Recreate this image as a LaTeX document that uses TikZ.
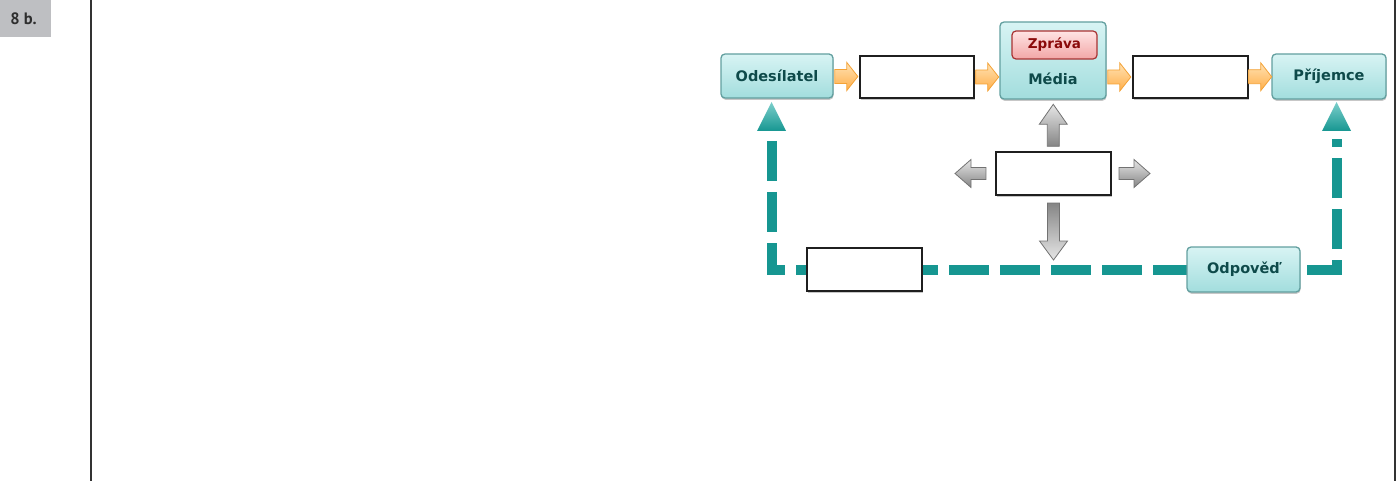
\documentclass[tikz,border=0pt]{standalone}
\usepackage{fontspec}
\setmainfont{DejaVu Sans}
\newfontfamily\tagfont{PT Sans}
\usetikzlibrary{calc,shadows}
\definecolor{tealfb}{HTML}{169691}
\definecolor{tealtop}{HTML}{7CCFCB}
\definecolor{boxtop}{HTML}{D8F4F4}
\definecolor{boxbot}{HTML}{A2DDDD}
\definecolor{boxline}{HTML}{629F9F}
\definecolor{boxtext}{HTML}{0E4A4A}
\definecolor{pinktop}{HTML}{FFE4E4}
\definecolor{pinkbot}{HTML}{F2A6A6}
\definecolor{pinkline}{HTML}{A83232}
\definecolor{pinktext}{HTML}{8A0A0A}
\definecolor{orangetop}{HTML}{FFE2B4}
\definecolor{orangebot}{HTML}{FFAE48}
\definecolor{orangeline}{HTML}{F4A236}
\definecolor{graylight}{HTML}{E6E6E6}
\definecolor{graydark}{HTML}{858585}
\definecolor{grayline}{HTML}{727272}
\definecolor{tagbg}{HTML}{BEBFC2}
\definecolor{tagtext}{HTML}{2E2E2E}
\definecolor{frameline}{HTML}{333333}
\tikzset{
  pics/blockarrow/.style n args={5}{code={
    \path[#5] ({-#1/2},{-#3}) -- ({#1/2-#2},{-#3}) -- ({#1/2-#2},{-#4}) -- ({#1/2},0)
      -- ({#1/2-#2},{#4}) -- ({#1/2-#2},{#3}) -- ({-#1/2},{#3}) -- cycle;}},
  softshadow/.style={drop shadow={shadow xshift=0.5pt, shadow yshift=-1.8pt, opacity=0.22, fill=black}},
  tealbox/.style={draw=boxline, line width=1.3pt, rounded corners=4pt, top color=boxtop, bottom color=boxbot,
    softshadow, inner sep=0pt, text=boxtext, font=\fontsize{14.5}{17}\selectfont\bfseries},
  labeltext/.style={inner sep=0pt, text=boxtext, font=\fontsize{14.5}{17}\selectfont\bfseries},
  pinkbox/.style={draw=pinkline, line width=1.2pt, rounded corners=4pt, top color=pinktop, bottom color=pinkbot,
    inner sep=0pt, text=pinktext, font=\fontsize{13.5}{16}\selectfont\bfseries},
  blankbox/.style={draw=black!88, line width=2pt, fill=white, softshadow, inner sep=0pt},
  orangearr/.style={draw=orangeline, line width=0.8pt, top color=orangetop, bottom color=orangebot},
  grayarrup/.style={draw=grayline, line width=0.8pt, top color=graylight, bottom color=graydark},
  grayarrdown/.style={draw=grayline, line width=0.8pt, top color=graydark, bottom color=graylight},
  grayarrside/.style={draw=grayline, line width=0.8pt, top color=graylight, bottom color=graydark},
  fb/.style={draw=tealfb, line width=10pt, dash pattern=on 40pt off 11pt, line join=miter, line cap=butt},
  tealtri/.style={top color=tealtop, bottom color=tealfb, draw=none},
}
\begin{document}
\begin{tikzpicture}[x=1pt,y=-1pt]
\useasboundingbox (0,0) rectangle (1399,481);
% frame
\node[fill=tagbg, minimum width=51pt, minimum height=37pt, inner sep=0pt, anchor=north west] (tag) at (0,0) {};
\node[inner sep=0pt, text=tagtext, font=\tagfont\bfseries\fontsize{16.5}{19}\selectfont] (tagtxt) at (23.5,18.5) {8 b.};
\draw[frameline, line width=1.3pt] (91,0) -- (91,481);
\draw[frameline, line width=1.3pt] (1395,0) -- (1395,481);

% top row
\node[tealbox, minimum width=112pt, minimum height=44pt] (odes) at (777,76) {Odesílatel};
\node[blankbox, minimum width=114pt, minimum height=42pt] (box1) at (917,77) {};
\node[tealbox, minimum width=106pt, minimum height=77pt] (media) at (1053,60.5) {};
\node[labeltext] (medialbl) at (1053,79) {Média};
\node[pinkbox, minimum width=85pt, minimum height=28pt] (zprava) at (1054.5,45) {Zpráva};
\node[blankbox, minimum width=115pt, minimum height=42pt] (box2) at (1190.5,77) {};
\node[tealbox, minimum width=114pt, minimum height=45pt] (prij) at (1329,76.5) {Příjemce};

% orange arrows
\pic at ($(odes.east)!0.5!(box1.west)$) {blockarrow={23}{11}{7}{14}{orangearr}};
\pic at ($(box1.east)!0.5!(box1.east -| media.west)$) {blockarrow={23}{11}{7}{14}{orangearr}};
\pic at ($(box2.west -| media.east)!0.5!(box2.west)$) {blockarrow={23}{11}{7}{14}{orangearr}};
\pic at ($(box2.east)!0.5!(prij.west)$) {blockarrow={23}{11}{7}{14}{orangearr}};

% center box and gray arrows
\node[blankbox, minimum width=115pt, minimum height=43pt] (cbox) at (1053.5,173.5) {};
\pic[rotate=90] at ($(media.south)!0.5!(cbox.north)$) {blockarrow={42}{20}{6}{14}{grayarrup}};
\pic[rotate=180] at ($(cbox.west)+(-24.5,0)$) {blockarrow={31}{16}{6}{14}{grayarrside}};
\pic at ($(cbox.east)+(22.5,0)$) {blockarrow={31}{16}{6}{14}{grayarrside}};
\pic[rotate=-90] at ($(cbox.south)+(0,35.5)$) {blockarrow={57}{19}{6}{14}{grayarrdown}};

% feedback loop
\coordinate (odpwest) at (1187,270);
\coordinate (odpeast) at (1300,270);
\coordinate (cornerL) at (772,270);
\coordinate (endL) at (772,141);
\coordinate (cornerR) at (1337,270);
\coordinate (endR) at (1337,139);
\draw[fb] (endL) -- (cornerL) -- (odpwest);
\draw[fb] ([xshift=7pt]odpeast) -- (cornerR) -- (endR);
\path[tealtri] (757,131) -- (771.5,102) -- (786,131) -- cycle;
\path[tealtri] (1322,131) -- (1336.5,102) -- (1351,131) -- cycle;

\node[blankbox, minimum width=115pt, minimum height=43pt] (box3) at (864.5,269.5) {};
\node[tealbox, minimum width=113pt, minimum height=45pt] (odp) at (1243.5,269.5) {Odpověď};
\end{tikzpicture}
\end{document}
